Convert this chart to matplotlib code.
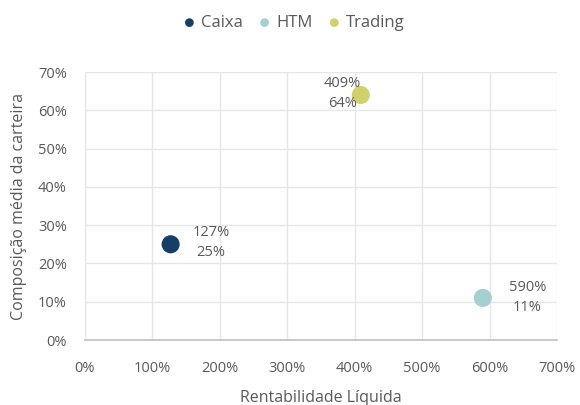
import matplotlib
matplotlib.use("Agg")
import matplotlib.pyplot as plt
from matplotlib.ticker import FuncFormatter

plt.rcParams['font.family'] = ['Open Sans', 'DejaVu Sans']

categories = ["Caixa", "HTM", "Trading"]
rentabilidade = [127, 590, 409]   # % (x)
composicao = [25, 11, 64]         # % (y)
colors = ["#153F66", "#A6CFCF", "#D0D16C"]
x_ticks = [0, 100, 200, 300, 400, 500, 600, 700]
y_ticks = [0, 10, 20, 30, 40, 50, 60, 70]

text_color = "#595959"

fig = plt.figure(figsize=(5.8, 4.05), dpi=100)
ax = fig.add_axes([85/580, 65/405, (557-85)/580, (340-72)/405])

for c, x, y, col in zip(categories, rentabilidade, composicao, colors):
    ax.scatter([x], [y], s=170, color=col, label=c, zorder=3, edgecolors='none')

# data labels (offsets in points)
offsets = {"Caixa": (29, 1), "HTM": (32, 0), "Trading": (-13, 1)}
for c, x, y in zip(categories, rentabilidade, composicao):
    dx, dy = offsets[c]
    ax.annotate(f"{x}%\n{y}%", (x, y), xytext=(dx, dy), textcoords='offset points',
                ha='center', va='center', fontsize=10.5, color=text_color,
                linespacing=1.45, zorder=4)

ax.set_xlim(0, 700)
ax.set_ylim(0, 70)
ax.set_xticks(x_ticks)
ax.set_yticks(y_ticks)
ax.xaxis.set_major_formatter(FuncFormatter(lambda v, p: f"{int(v)}%"))
ax.yaxis.set_major_formatter(FuncFormatter(lambda v, p: f"{int(v)}%"))
ax.grid(True, color="#E6E6E6", linewidth=1, zorder=0)
ax.set_axisbelow(True)
for s in ['top', 'right']:
    ax.spines[s].set_visible(False)
ax.spines['left'].set_color("#E6E6E6")
ax.spines['bottom'].set_color("#BFBFBF")
ax.spines['bottom'].set_linewidth(1.2)
ax.tick_params(length=0, labelsize=10.5, colors=text_color)
ax.tick_params(axis='x', pad=15)
ax.tick_params(axis='y', pad=13)

ax.set_xlabel("Rentabilidade Líquida", fontsize=11.5, color=text_color, labelpad=10)
ax.set_ylabel("Composição média da carteira", fontsize=11.5, color=text_color, labelpad=8)

fig.legend(loc='upper center', bbox_to_anchor=(0.505, 1.0), ncol=3, frameon=False,
           fontsize=12, labelcolor=text_color, markerscale=0.48, handlelength=1.0,
           handletextpad=0.2, columnspacing=0.8)

fig.savefig("out.png", dpi=100)
